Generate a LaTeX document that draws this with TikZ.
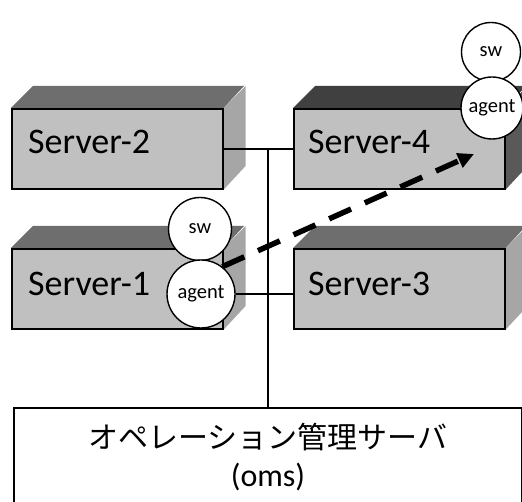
\documentclass[tikz,border=0pt]{standalone}
\usepackage{fontspec}
\setmainfont{Carlito}
\newfontfamily\jpfont{Noto Sans CJK JP}
\usetikzlibrary{arrows.meta}

\definecolor{frontgray}{HTML}{C0C0C0}
\definecolor{topgray}{HTML}{6E6E6E}
\definecolor{sidegray}{HTML}{A6A6A6}
\definecolor{topdark}{HTML}{404040}
\definecolor{sidedark}{HTML}{595959}

\tikzset{
  front/.style={draw=black, line width=1.6pt, fill=frontgray, minimum width=211pt,
    minimum height=80pt, inner sep=0pt, anchor=north west},
  srvlabel/.style={font=\fontsize{36}{40}\selectfont, inner sep=0pt, anchor=west},
  bubble/.style={draw=black, line width=1.4pt, fill=white, circle, inner sep=0pt,
    font=\fontsize{20.5}{22}\selectfont},
  wire/.style={draw=black, line width=1.6pt},
  dasharrow/.style={draw=black, line width=5.5pt, dash pattern=on 24pt off 15pt,
    -{Triangle[length=16pt,width=15pt]}},
  omsbox/.style={draw=black, line width=1.6pt, fill=white, minimum width=508pt,
    minimum height=104pt, inner sep=0pt, anchor=north},
}

% a front face with a top face and a side face behind it
\newcommand\boxfaces[3]{%
  \fill[#2] (#1.north west) -- ++(22,-22) -- ++(211,0) -- (#1.north east) -- cycle;
  \fill[#3] (#1.north east) -- ++(22,-22) -- ++(0,80) -- (#1.south east) -- cycle;
}

\begin{document}
\begin{tikzpicture}[x=1pt, y=-1pt]
\useasboundingbox (0,0) rectangle (522,502);
\clip (0,0) rectangle (522,502);

% servers
\node[front] (s2) at (11,108) {};
\boxfaces{s2}{topgray}{sidegray}
\node[front] (s2) at (11,108) {};
\node[srvlabel] (s2t) at (28,142) {Server-2};

\node[front] (s4) at (293,108) {};
\boxfaces{s4}{topdark}{sidedark}
\node[front] (s4) at (293,108) {};
\node[srvlabel] (s4t) at (308,142) {Server-4};

\node[front] (s1) at (11,248) {};
\boxfaces{s1}{topgray}{sidegray}
\node[front] (s1) at (11,248) {};
\node[srvlabel] (s1t) at (28,284) {Server-1};

\node[front] (s3) at (293,248) {};
\boxfaces{s3}{topgray}{sidegray}
\node[front] (s3) at (293,248) {};
\node[srvlabel] (s3t) at (308,284) {Server-3};

% management server
\node[omsbox] (oms) at (268,407) {};
\node[inner sep=0pt, font=\jpfont\fontsize{30}{34}\selectfont] (omsj) at (268,437) {オペレーション管理サーバ};
\node[inner sep=0pt, font=\fontsize{32}{36}\selectfont] (omst) at (268,477) {(oms)};

% network wiring
\coordinate (hub) at (268,148);
\draw[wire] (s2.east) -- (s4.west);
\draw[wire] (hub) -- (oms.north);

% components on the servers
\node[bubble, minimum size=63pt] (sw1) at (200,229) {sw};
\node[bubble, minimum size=68pt] (ag1) at (201,294) {agent};
\node[bubble, minimum size=59pt] (sw4) at (491,52) {sw};
\node[bubble, minimum size=62pt] (ag4) at (492,108) {agent};

\draw[wire] (ag1.east) -- (s3.west |- ag1.east);

% agent deployment
\coordinate (tip) at (474,154);
\draw[dasharrow] (ag1.52) -- (tip);
\end{tikzpicture}
\end{document}
